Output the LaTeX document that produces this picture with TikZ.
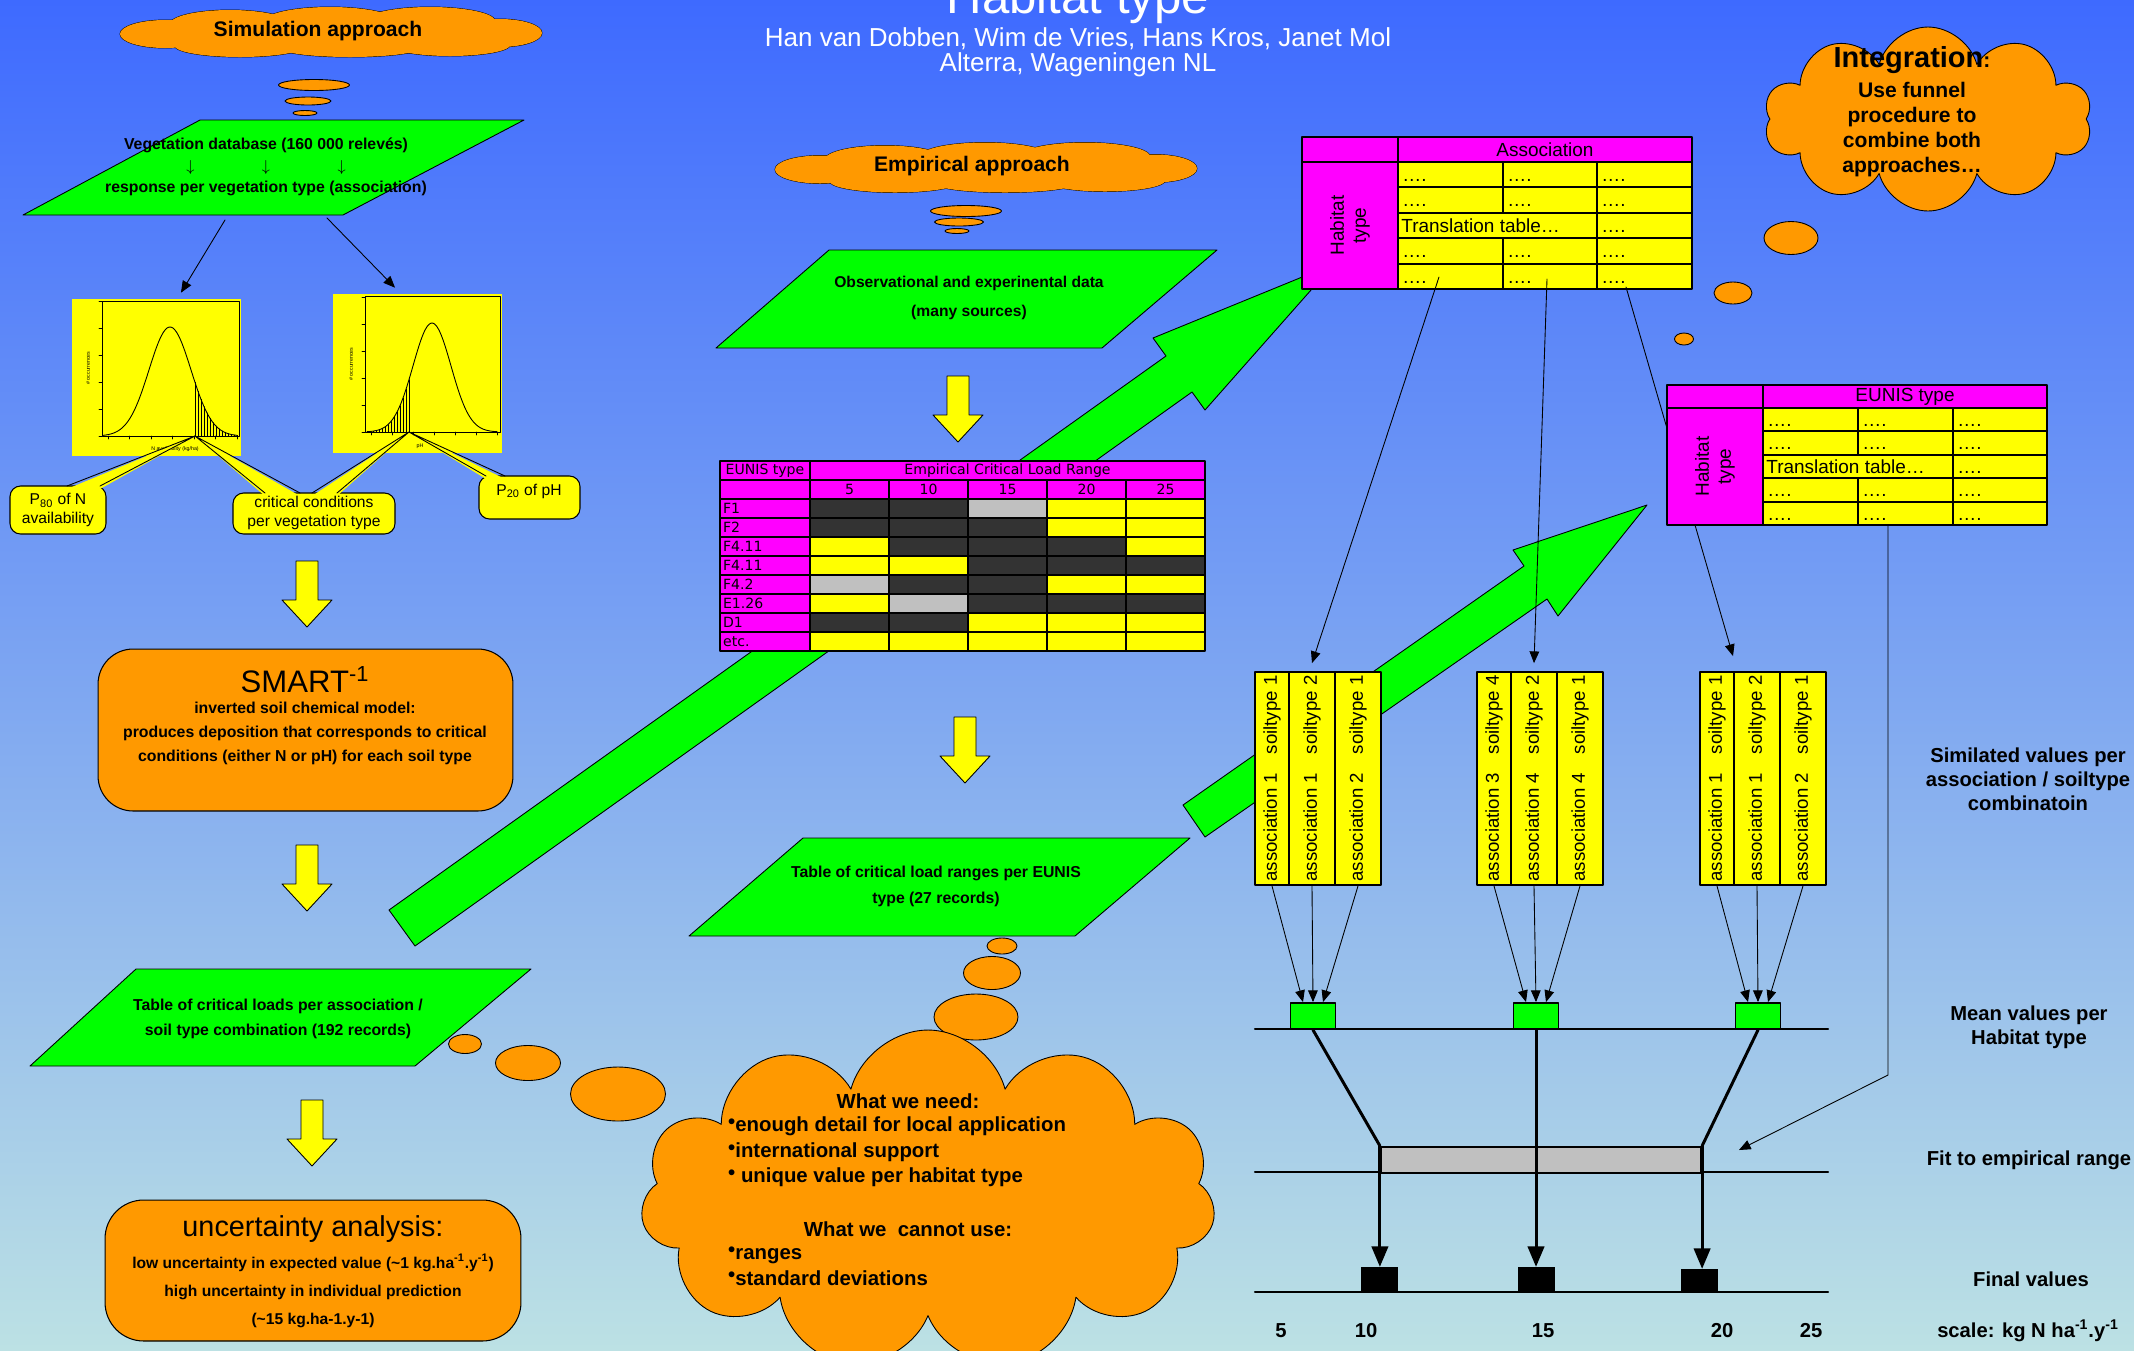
\documentclass[tikz,border=0pt]{standalone}
\usepackage{fontspec}
\setmainfont{Liberation Sans}
\newfontfamily\tabfont{DejaVu Sans}
\usetikzlibrary{arrows,shapes.symbols}

\definecolor{bgtop}{RGB}{62,106,255}
\definecolor{bgbot}{RGB}{188,225,228}
\definecolor{orangeC}{RGB}{255,153,0}
\definecolor{greenC}{RGB}{0,255,0}
\definecolor{yellowC}{RGB}{255,255,0}
\definecolor{magC}{RGB}{255,0,255}
\definecolor{cellD}{RGB}{51,51,51}
\definecolor{cellG}{RGB}{192,192,192}
\definecolor{cellY}{RGB}{255,255,0}

% lobes of the long thought clouds (relative to the centre)
\newcommand\cloudlobes{-166/2/45/14,-101/-8/60/14,-1/-11/65/14,99/-11/65/14,169/1/42/14,-91/14/65/11,19/16/70/9,119/13/60/11,0/2/190/16}
\newcommand\nbul{\raisebox{0.3ex}{•}}

\begin{document}
\begin{tikzpicture}[x=0.02cm,y=-0.02cm,line cap=round,line join=round,>=triangle 45,
  thinline/.style={line width=0.5pt},
  axisline/.style={line width=1.2pt},
  funnel/.style={line width=1.7pt},
  para/.style={draw=black,fill=greenC,line width=0.5pt},
  bigarrow/.style={draw=black,fill=greenC,line width=0.5pt},
  yarrow/.style={draw=black,fill=yellowC,line width=0.5pt},
  bubble/.style={draw=black,fill=orangeC,line width=0.5pt},
  cloudy/.style={cloud,cloud ignores aspect,draw=black,fill=orangeC,line width=0.5pt,inner sep=0pt},
  obox/.style={draw=black,fill=orangeC,line width=0.6pt},
  callout/.style={draw=black,fill=yellowC,line width=0.6pt,rounded corners=6pt},
  tabcell/.style={draw=black,line width=1.1pt},
  soilcol/.style={draw=black,fill=yellowC,line width=1.1pt,minimum height=4.26cm,inner sep=0pt,font=\fontsize{10.6}{12}\selectfont},
  meanbox/.style={draw=black,fill=greenC,line width=1.1pt,minimum width=0.9cm,minimum height=0.52cm,inner sep=0pt},
  finalbox/.style={fill=black,minimum width=0.74cm,minimum height=0.48cm,inner sep=0pt},
  fitrange/.style={draw=black,fill=cellG,line width=1.3pt,minimum width=6.4cm,minimum height=0.52cm,inner sep=0pt},
  chartbox/.style={fill=yellowC,inner sep=0pt},
  smallb/.style={font=\fontsize{9}{12.2}\selectfont\bfseries,align=center},
  calltxt/.style={font=\fontsize{8.9}{10.5}\selectfont,align=center},
  tabtxt/.style={font=\tabfont\fontsize{8}{9}\selectfont,inner sep=1pt},
  midtxt/.style={font=\fontsize{10.8}{12.5}\selectfont,inner sep=0pt},
  needtxt/.style={font=\fontsize{11.6}{14.4}\selectfont\bfseries},
  rlabel/.style={font=\fontsize{11.5}{13.6}\selectfont\bfseries,align=center},
  tiny3/.style={font=\fontsize{3}{3.5}\selectfont,inner sep=0pt},
  downarrow/.pic={\draw[yarrow] (-11,0) -- (11,0) -- (11,39) -- (25,39) -- (0,66) -- (-25,39) -- (-11,39) -- cycle;},
  longcloud/.pic={
    \foreach \cx/\cy/\rx/\ry in \cloudlobes \draw[bubble] (\cx,\cy) ellipse [x radius=\rx,y radius=\ry];
    \foreach \cx/\cy/\rx/\ry in \cloudlobes \fill[orangeC] (\cx,\cy) ellipse [x radius=\rx,y radius=\ry];},
  declare function={bellN(\x)=436-109*exp(-((\x-170)/21)*((\x-170)/21)/2);
                    bellP(\x)=432-109*exp(-((\x-432)/19)*((\x-432)/19)/2);}]
\path[use as bounding box] (0,0) rectangle (2134,1350);
\clip (0,0) rectangle (2134,1350);
\shade[top color=bgtop,bottom color=bgbot] (0,0) rectangle (2134,1350);

% title
\node[anchor=base,text=white,font=\fontsize{28}{30}\selectfont] (title) at (1078,13) {Habitat type};
\node[text=white,font=\fontsize{14.8}{16}\selectfont] (authors) at (1078,39) {Han van Dobben, Wim de Vries, Hans Kros, Janet Mol};
\node[text=white,font=\fontsize{14.8}{16}\selectfont] (inst) at (1078,65) {Alterra, Wageningen NL};

% big green arrows (behind everything)
\draw[bigarrow] (389,910) -- (1166,356) -- (1153,338) -- (1334,264) -- (1205,410) -- (1192,392) -- (415,946) -- cycle;
\draw[bigarrow] (1183,805) -- (1524,566) -- (1513,550) -- (1647,505) -- (1558,616) -- (1547,599) -- (1205,837) -- cycle;

% ---------------- simulation approach
\pic at (331,32) {longcloud};
\node[font=\fontsize{12}{13}\selectfont\bfseries] (simtxt) at (318,31) {Simulation approach};
\draw[bubble] (314,85) ellipse [x radius=35.5,y radius=5.5];
\draw[bubble] (308,101) ellipse [x radius=23,y radius=4];
\draw[bubble] (305,113) ellipse [x radius=12,y radius=2.5];

\draw[para] (200,120) -- (524,120) -- (343,215) -- (23,215) -- cycle;
\node[smallb] (vegtxt) at (266,167) {Vegetation database (160 000 relevés)\\$\downarrow$\hspace{1.35cm}$\downarrow$\hspace{1.35cm}$\downarrow$\\response per vegetation type (association)};

% charts
\node[chartbox,minimum width=3.38cm,minimum height=3.14cm] (chartN) at (156.5,377.5) {};
\node[chartbox,minimum width=3.38cm,minimum height=3.18cm] (chartP) at (417.5,373.5) {};
\coordinate (vegout1) at (225,220);
\coordinate (vegout2) at (327,218);
\draw[thinline,->] (vegout1) -- ([xshift=0.49cm,yshift=0.12cm]chartN.north);
\draw[thinline,->] (vegout2) -- ([xshift=-0.45cm,yshift=0.12cm]chartP.north);

\draw[line width=0.4pt] (102,301) rectangle (239,436);
\foreach \t in {0,...,5} \draw[line width=0.3pt] (102,{436-27*\t}) -- ++(-3,0);
\foreach \t in {0,...,6} \draw[line width=0.3pt] ({108+21.5*\t},436) -- ++(0,3);
\draw[line width=0.5pt] plot[domain=103:237,samples=70,smooth] (\x,{bellN(\x)});
\foreach \xx in {195,198,...,237} \draw[line width=0.3pt] (\xx,436) -- (\xx,{bellN(\xx)});
\node[tiny3,rotate=90] (ylabN) at (88,368) {\# occurrences};
\node[tiny3] (xlabN) at (175,449) {N availability (kg/ha)};

\draw[line width=0.4pt] (365,296) rectangle (500,432);
\foreach \t in {0,...,5} \draw[line width=0.3pt] (365,{432-27*\t}) -- ++(-3,0);
\foreach \t in {0,...,6} \draw[line width=0.3pt] ({371+21*\t},432) -- ++(0,3);
\draw[line width=0.5pt] plot[domain=367:497,samples=70,smooth] (\x,{bellP(\x)});
\foreach \xx in {367,370,...,409} \draw[line width=0.3pt] (\xx,432) -- (\xx,{bellP(\xx)});
\node[tiny3,rotate=90] (ylabP) at (351,364) {\# occurrences};
\node[tiny3] (xlabP) at (420,446) {pH};

% callouts
\coordinate (tailN) at (195,436);
\coordinate (tailP) at (409,432);
\draw[callout] (10,486) rectangle (106,534);
\fill[yellowC] (67,489) -- (tailN) -- (100,489) -- cycle;
\draw[thinline] (67,486) -- (tailN) -- (100,486);
\node[calltxt] (p80txt) at (58,510) {P\textsubscript{80} of N\\availability};

\draw[callout] (233,493) rectangle (395,534);
\fill[yellowC] (265,496) -- (tailN) -- (300,496) -- cycle;
\fill[yellowC] (312,496) -- (tailP) -- (337,496) -- cycle;
\draw[thinline] (265,493) -- (tailN) -- (300,493);
\draw[thinline] (312,493) -- (tailP) -- (337,493);
\node[calltxt] (crittxt) at (314,513) {critical conditions\\per vegetation type};

\draw[callout] (479,476) rectangle (580,519);
\fill[yellowC] (486,479) -- (tailP) -- (505,479) -- cycle;
\draw[thinline] (486,476) -- (tailP) -- (505,476);
\node[calltxt] (p20txt) at (529,491) {P\textsubscript{20} of pH};

\pic at (307,561) {downarrow};

% SMART
\node[obox,rounded corners=20pt,minimum width=8.3cm,minimum height=3.24cm] (smart) at (305.5,730) {};
\node[font=\fontsize{17.7}{20}\selectfont] (smarthd) at (305,680) {SMART\textsuperscript{-1}};
\node[font=\fontsize{9}{13.7}\selectfont\bfseries,align=center] (smarttxt) at (305,733) {inverted soil chemical model:\\produces deposition that corresponds to critical\\conditions (either N or pH) for each soil type};

\pic at (307,845) {downarrow};

\draw[para] (136,969) -- (531,969) -- (415,1066) -- (30,1066) -- cycle;
\node[font=\fontsize{9}{14.2}\selectfont\bfseries,align=center] (crittab) at (278,1019) {Table of critical loads per association /\\soil type combination (192 records)};
\draw[bubble] (465,1044) ellipse [x radius=16.5,y radius=9.5];
\draw[bubble] (528,1063) ellipse [x radius=32.5,y radius=17.5];
\draw[bubble] (618,1094) ellipse [x radius=47.5,y radius=27];

\pic at (312,1100) {downarrow};

\node[obox,rounded corners=22pt,minimum width=8.32cm,minimum height=2.82cm] (uncbox) at (313,1270.5) {};
\node[font=\fontsize{16.4}{18}\selectfont] (unchd) at (313,1229) {uncertainty analysis:};
\node[font=\fontsize{8.9}{16.2}\selectfont\bfseries,align=center] (unctxt) at (313,1291) {low uncertainty in expected value (\textasciitilde 1 kg.ha\textsuperscript{-1}.y\textsuperscript{-1})\\high uncertainty in individual prediction\\(\textasciitilde 15 kg.ha-1.y-1)};

% ---------------- empirical approach
\pic at (986,167.5) {longcloud};
\node[font=\fontsize{12}{13}\selectfont\bfseries] (emptxt) at (972,166) {Empirical approach};
\draw[bubble] (966,211) ellipse [x radius=35.5,y radius=5.5];
\draw[bubble] (959,222) ellipse [x radius=24.5,y radius=4];
\draw[bubble] (957,231) ellipse [x radius=12,y radius=2.5];

\draw[para] (829,250) -- (1217,250) -- (1102,348) -- (716,348) -- cycle;
\node[font=\fontsize{8.9}{16.5}\selectfont\bfseries,align=center] (obstxt) at (969,298) {Observational and experinental data\\(many sources)};

\pic at (958,376) {downarrow};

% empirical table
\draw[tabcell,fill=magC] (720,461) rectangle (810,480);
\node[tabtxt] (eunishd) at (765,470.5) {EUNIS type};
\draw[tabcell,fill=magC] (810,461) rectangle (1205,480);
\node[tabtxt] (ecrange) at (1007.5,470.5) {Empirical Critical Load Range};
\draw[tabcell,fill=magC] (720,480) rectangle (810,499);
\foreach \v [count=\k] in {5,10,15,20,25}{
  \draw[tabcell,fill=magC] ({810+(\k-1)*79},480) rectangle ++(79,19);
  \node[tabtxt] (ecol\k) at ({849.5+(\k-1)*79},489.5) {\v};
}
\foreach \lab/\ca/\cb/\cc/\cd/\ce [count=\r] in {F1/D/D/G/Y/Y,F2/D/D/D/Y/Y,F4.11/Y/D/D/D/Y,F4.11/Y/Y/D/D/D,F4.2/G/D/D/Y/Y,E1.26/Y/G/D/D/D,D1/D/D/Y/Y/Y,etc./Y/Y/Y/Y/Y}{
  \draw[tabcell,fill=magC] (720,{499+(\r-1)*19}) rectangle ++(90,19);
  \node[tabtxt,anchor=west] (erow\r) at (721,{508.5+(\r-1)*19}) {\lab};
  \foreach \c [count=\k] in {\ca,\cb,\cc,\cd,\ce}
    \draw[tabcell,fill=cell\c] ({810+(\k-1)*79},{499+(\r-1)*19}) rectangle ++(79,19);
}

\pic at (965,717) {downarrow};

\draw[para] (803,838) -- (1190,838) -- (1075,936) -- (689,936) -- cycle;
\node[font=\fontsize{9}{14.8}\selectfont\bfseries,align=center] (rangetab) at (936,886) {Table of critical load ranges per EUNIS\\type (27 records)};
\draw[bubble] (1002,946) ellipse [x radius=15,y radius=8];
\draw[bubble] (992,973) ellipse [x radius=28.5,y radius=16.5];
\draw[bubble] (976,1017) ellipse [x radius=42,y radius=23];

\node[cloudy,cloud puffs=11,minimum width=11.5cm,minimum height=6.8cm] (needcloud) at (928,1200) {};
\node[needtxt] (needhd) at (908,1101) {What we need:};
\node[needtxt,anchor=west,align=left] (needlist) at (722,1152) {\nbul enough detail for local application\\\nbul international support\\\nbul\ unique value per habitat type};
\node[needtxt] (cannothd) at (908,1229) {What we\ \ cannot use:};
\node[needtxt,anchor=west,align=left] (cannotlist) at (722,1266) {\nbul ranges\\\nbul standard deviations};

% ---------------- integration
\node[cloudy,cloud puffs=10,minimum width=6.56cm,minimum height=3.68cm] (intcloud) at (1928,119) {};
\node[font=\fontsize{12}{14.3}\selectfont\bfseries,align=center] (inttxt) at (1912,112) {{\fontsize{16.5}{18}\selectfont Integration}:\\[2.5pt]Use funnel\\procedure to\\combine both\\approaches…};
\draw[bubble] (1791,238) ellipse [x radius=27,y radius=16.5];
\draw[bubble] (1733,293) ellipse [x radius=19,y radius=11];
\draw[bubble] (1684,339) ellipse [x radius=9.5,y radius=6];

% association table
\draw[tabcell,fill=magC] (1302,137) rectangle (1398,162);
\draw[tabcell,fill=magC] (1398,137) rectangle (1692,162);
\node[midtxt] (assochd) at (1545,150) {Association};
\draw[tabcell,fill=magC] (1302,162) rectangle (1398,289);
\node[midtxt,rotate=90,align=center] (assocrow) at (1350,225.5) {Habitat\\type};
\foreach \r in {1,2,4,5}{
  \foreach \xa/\xb [count=\k] in {1398/1503,1503/1597,1597/1692}{
    \draw[tabcell,fill=yellowC] (\xa,{162+(\r-1)*25.4}) rectangle (\xb,{162+\r*25.4});
    \node[midtxt,anchor=base west] (as-\r-\k) at ({\xa+4},{162+\r*25.4-6}) {….};
  }
}
\draw[tabcell,fill=yellowC] (1398,212.8) rectangle (1597,238.2);
\draw[tabcell,fill=yellowC] (1597,212.8) rectangle (1692,238.2);
\node[midtxt,anchor=base west] (astrans) at (1401,232.2) {Translation table…};
\node[midtxt,anchor=base west] (as-3-3) at (1601,232.2) {….};

% soil type groups
\foreach \g/\dx/\ga/\gb/\gc/\gd/\ge/\gf in {1/0/1/1/1/2/2/1,2/222/3/4/4/2/4/1,3/445/1/1/1/2/2/1}{
  \node[soilcol,minimum width=0.68cm] (g\g-a) at ({1272+\dx},778.5) {\rotatebox{90}{association \ga\quad soiltype \gb}};
  \node[soilcol,minimum width=0.92cm] (g\g-b) at ({1312+\dx},778.5) {\rotatebox{90}{association \gc\quad soiltype \gd}};
  \node[soilcol,minimum width=0.92cm] (g\g-c) at ({1358+\dx},778.5) {\rotatebox{90}{association \ge\quad soiltype \gf}};
}

% lines from the translation tables
\coordinate (asout1) at (1439,277);
\coordinate (asout2) at (1547,279);
\coordinate (asout3) at (1626,287);
\draw[thinline,->] (asout1) -- ([yshift=0.16cm]g1-b.north);
\draw[thinline,->] (asout2) -- ([yshift=0.16cm]g2-b.north);
\draw[thinline,->] (asout3) -- ([xshift=-0.48cm,yshift=0.3cm]g3-b.north);

% EUNIS table
\draw[tabcell,fill=magC] (1667,385) rectangle (1763,408);
\draw[tabcell,fill=magC] (1763,385) rectangle (2047,408);
\node[midtxt] (euhd) at (1905,397) {EUNIS type};
\draw[tabcell,fill=magC] (1667,408) rectangle (1763,525);
\node[midtxt,rotate=90,align=center] (eurow) at (1715,466.5) {Habitat\\type};
\foreach \r in {1,2,4,5}{
  \foreach \xa/\xb [count=\k] in {1763/1858,1858/1953,1953/2047}{
    \draw[tabcell,fill=yellowC] (\xa,{408+(\r-1)*23.4}) rectangle (\xb,{408+\r*23.4});
    \node[midtxt,anchor=base west] (eu-\r-\k) at ({\xa+4},{408+\r*23.4-5}) {….};
  }
}
\draw[tabcell,fill=yellowC] (1763,454.8) rectangle (1953,478.2);
\draw[tabcell,fill=yellowC] (1953,454.8) rectangle (2047,478.2);
\node[midtxt,anchor=base west] (eutrans) at (1766,473.2) {Translation table…};
\node[midtxt,anchor=base west] (eu-3-3) at (1957,473.2) {….};

% funnel
\coordinate (axL1) at (1255,1029); \coordinate (axR1) at (1828,1029);
\coordinate (axL2) at (1255,1172); \coordinate (axR2) at (1828,1172);
\coordinate (axL3) at (1255,1292); \coordinate (axR3) at (1828,1292);
\draw[axisline] (axL1) -- (axR1);
\draw[axisline] (axL2) -- (axR2);
\draw[axisline] (axL3) -- (axR3);

\node[fitrange] (fitbox) at (1541,1160) {};
\foreach \g/\cx in {1/1313,2/1536,3/1758}
  \node[meanbox] (m\g) at (\cx,1016) {};
\node[finalbox] (f1) at (1379,1279) {};
\node[finalbox] (f2) at (1536,1279) {};
\node[finalbox] (f3) at (1699,1281) {};

\foreach \g in {1,2,3}{
  \draw[thinline,->] (g\g-a.south) -- ([xshift=-0.2cm]m\g.north);
  \draw[thinline,->] (g\g-b.south) -- (m\g.north);
  \draw[thinline,->] (g\g-c.south) -- ([xshift=0.2cm]m\g.north);
}
\draw[funnel] (m1.south) -- (fitbox.north west);
\draw[funnel] (m3.south) -- (fitbox.north east);
\draw[funnel,->] (m2.south) -- (f2.north);
\draw[funnel,->] (fitbox.north west) -- (f1.north -| fitbox.north west);
\draw[funnel,->] (fitbox.north east) -- (f3.north -| fitbox.north east);

\coordinate (euout) at (1888,525);
\coordinate (eubend) at (1888,1075);
\coordinate (fitin) at (1739,1150);
\draw[thinline,->] (euout) -- (eubend) -- (fitin);

% right labels and scale
\node[rlabel] (lblsim) at (2028,779) {Similated values per\\association / soiltype\\combinatoin};
\node[rlabel] (lblmean) at (2029,1027) {Mean values per\\Habitat type};
\node[rlabel] (lblfit) at (2029,1160) {Fit to empirical range};
\node[rlabel] (lblfinal) at (2031,1279) {Final values};
\node[rlabel] (lblscale) at (2028,1331) {scale: kg N ha\textsuperscript{-1}.y\textsuperscript{-1}};
\foreach \v/\sx in {5/1281,10/1366,15/1543,20/1722,25/1811}
  \node[rlabel] (sc\v) at (\sx,1331) {\v};
\end{tikzpicture}
\end{document}
